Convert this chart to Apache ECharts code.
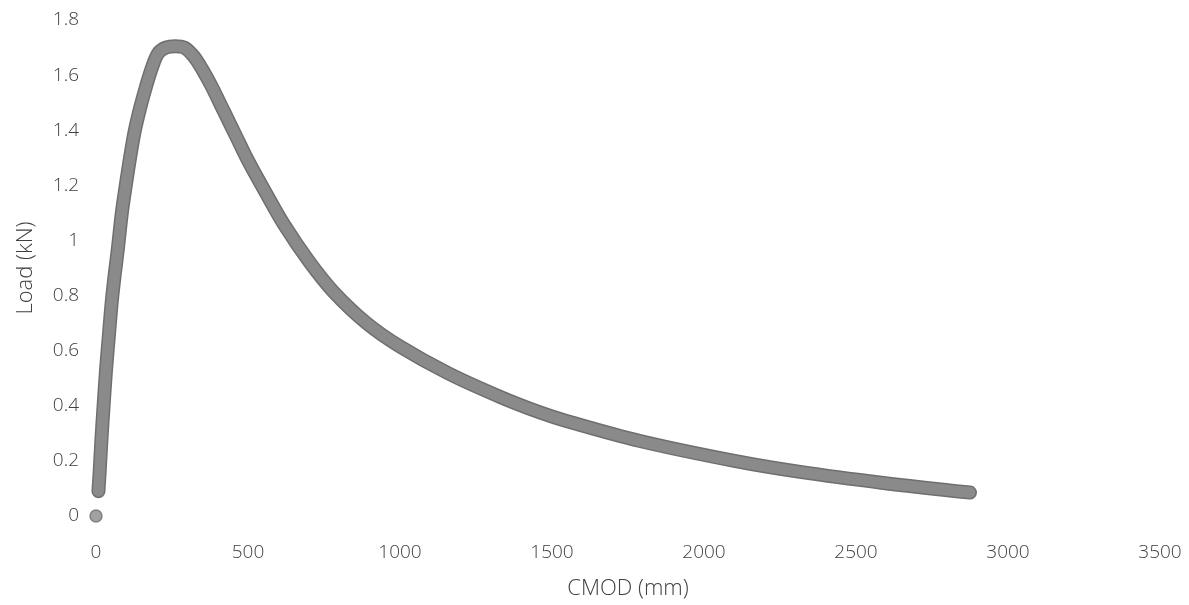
<!DOCTYPE html>
<html>
<head>
<meta charset="utf-8">
<script src="https://cdn.jsdelivr.net/npm/echarts@6/dist/echarts.min.js"></script>
<style>
  html, body { margin: 0; padding: 0; background: #ffffff; }
  #chart { width: 1189px; height: 605px; }
</style>
</head>
<body>
<div id="chart"></div>
<script>
// CMOD (mm) and Load (kN)
const cmod = [8, 12, 18, 25, 33, 42, 52, 62, 72, 85, 98, 112, 128, 145, 165, 185, 205, 230, 260, 290, 320, 350, 380, 420, 460, 500, 560, 620, 700, 780, 890, 1000, 1160, 1330, 1460, 1550, 1790, 2100, 2316, 2590, 2875];
const load = [0.09, 0.16, 0.28, 0.40, 0.53, 0.65, 0.78, 0.88, 0.97, 1.10, 1.20, 1.30, 1.40, 1.48, 1.56, 1.63, 1.68, 1.70, 1.705, 1.70, 1.67, 1.62, 1.56, 1.47, 1.38, 1.29, 1.17, 1.055, 0.925, 0.815, 0.70, 0.615, 0.517, 0.432, 0.376, 0.344, 0.272, 0.20, 0.16, 0.12, 0.085];
// isolated origin point
const originCmod = [0];
const originLoad = [0];

const xTicks = { min: 0, max: 3500, interval: 500 };
const yTicks = { min: 0, max: 1.8, interval: 0.2 };

const curve = cmod.map((x, i) => [x, load[i]]);
const origin = originCmod.map((x, i) => [x, originLoad[i]]);

const labelFont = { fontFamily: 'Open Sans', fontWeight: 300, fontSize: 19, color: '#404040' };
const titleFont = { fontFamily: 'Open Sans', fontWeight: 300, fontSize: 22, color: '#404040' };

const chart = echarts.init(document.getElementById('chart'));
chart.setOption({
  animation: false,
  backgroundColor: '#ffffff',
  grid: { left: 96, right: 29, top: 20, bottom: 88, containLabel: false },
  xAxis: {
    type: 'value',
    min: xTicks.min, max: xTicks.max, interval: xTicks.interval,
    name: 'CMOD (mm)',
    nameLocation: 'middle',
    nameGap: 62,
    nameTextStyle: titleFont,
    axisLine: { show: false },
    axisTick: { show: false },
    splitLine: { show: false },
    axisLabel: Object.assign({ margin: 27, formatter: v => String(v) }, labelFont)
  },
  yAxis: {
    type: 'value',
    min: yTicks.min, max: yTicks.max, interval: yTicks.interval,
    name: 'Load (kN)',
    nameLocation: 'middle',
    nameGap: 59,
    nameTextStyle: titleFont,
    axisLine: { show: false },
    axisTick: { show: false },
    splitLine: { show: false },
    axisLabel: Object.assign({ margin: 17, formatter: v => String(Math.round(v * 10) / 10) }, labelFont)
  },
  series: [
    {
      type: 'line',
      data: curve,
      smooth: 0.35,
      showSymbol: false,
      lineStyle: { width: 14, color: '#6f6f6f', cap: 'round', join: 'round' },
      z: 2
    },
    {
      type: 'line',
      data: curve,
      smooth: 0.35,
      showSymbol: false,
      lineStyle: { width: 11, color: '#8a8a8a', cap: 'round', join: 'round' },
      z: 3
    },
    {
      type: 'scatter',
      data: origin,
      symbol: 'circle',
      symbolSize: 12,
      itemStyle: { color: '#8a8a8a', borderColor: '#6f6f6f', borderWidth: 1.5 },
      z: 4
    }
  ]
});
</script>
</body>
</html>
